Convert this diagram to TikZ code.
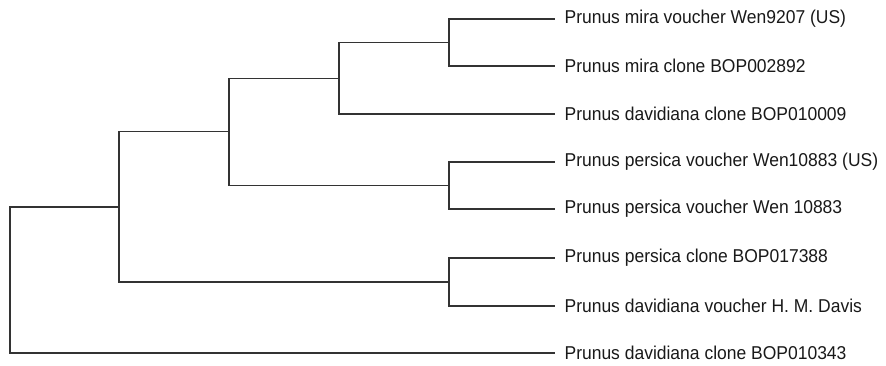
\documentclass[tikz,border=0pt]{standalone}
\usepackage{fontspec}
\setmainfont{Liberation Sans}
\begin{document}
\begin{tikzpicture}[x=1pt,y=-1pt,
  branch/.style={draw=black!80,line width=1.1pt},
  leaf/.style={anchor=west,inner xsep=10pt,inner ysep=0pt,xscale=0.94,
    font=\fontsize{18.6}{20}\selectfont,text=black!90}]
\useasboundingbox (0,0) rectangle (886,366);
% taxa
\node[leaf] (n1) at (555,19)  {Prunus mira voucher Wen9207 (US)};
\node[leaf] (n2) at (555,66)  {Prunus mira clone BOP002892};
\node[leaf] (n3) at (555,114) {Prunus davidiana clone BOP010009};
\node[leaf] (n4) at (555,162) {Prunus persica voucher Wen10883 (US)};
\node[leaf] (n5) at (555,209) {Prunus persica voucher Wen 10883};
\node[leaf] (n6) at (555,258) {Prunus persica clone BOP017388};
\node[leaf] (n7) at (555,306) {Prunus davidiana voucher H. M. Davis};
\node[leaf] (n8) at (555,353) {Prunus davidiana clone BOP010343};
% internal nodes (at the midpoint of their vertical bar)
\coordinate (A) at (449,42.5);
\coordinate (B) at (339,78.25);
\coordinate (C) at (449,185.5);
\coordinate (D) at (229,131.9);
\coordinate (E) at (449,282);
\coordinate (F) at (119,207);
\coordinate (R) at (10,280);
% branches
\draw[branch] (A) |- (n1.west) (A) |- (n2.west);
\draw[branch] (B) |- (A) (B) |- (n3.west);
\draw[branch] (C) |- (n4.west) (C) |- (n5.west);
\draw[branch] (D) |- (B) (D) |- (C);
\draw[branch] (E) |- (n6.west) (E) |- (n7.west);
\draw[branch] (F) |- (D) (F) |- (E);
\draw[branch] (R) |- (F) (R) |- (n8.west);
\end{tikzpicture}
\end{document}
